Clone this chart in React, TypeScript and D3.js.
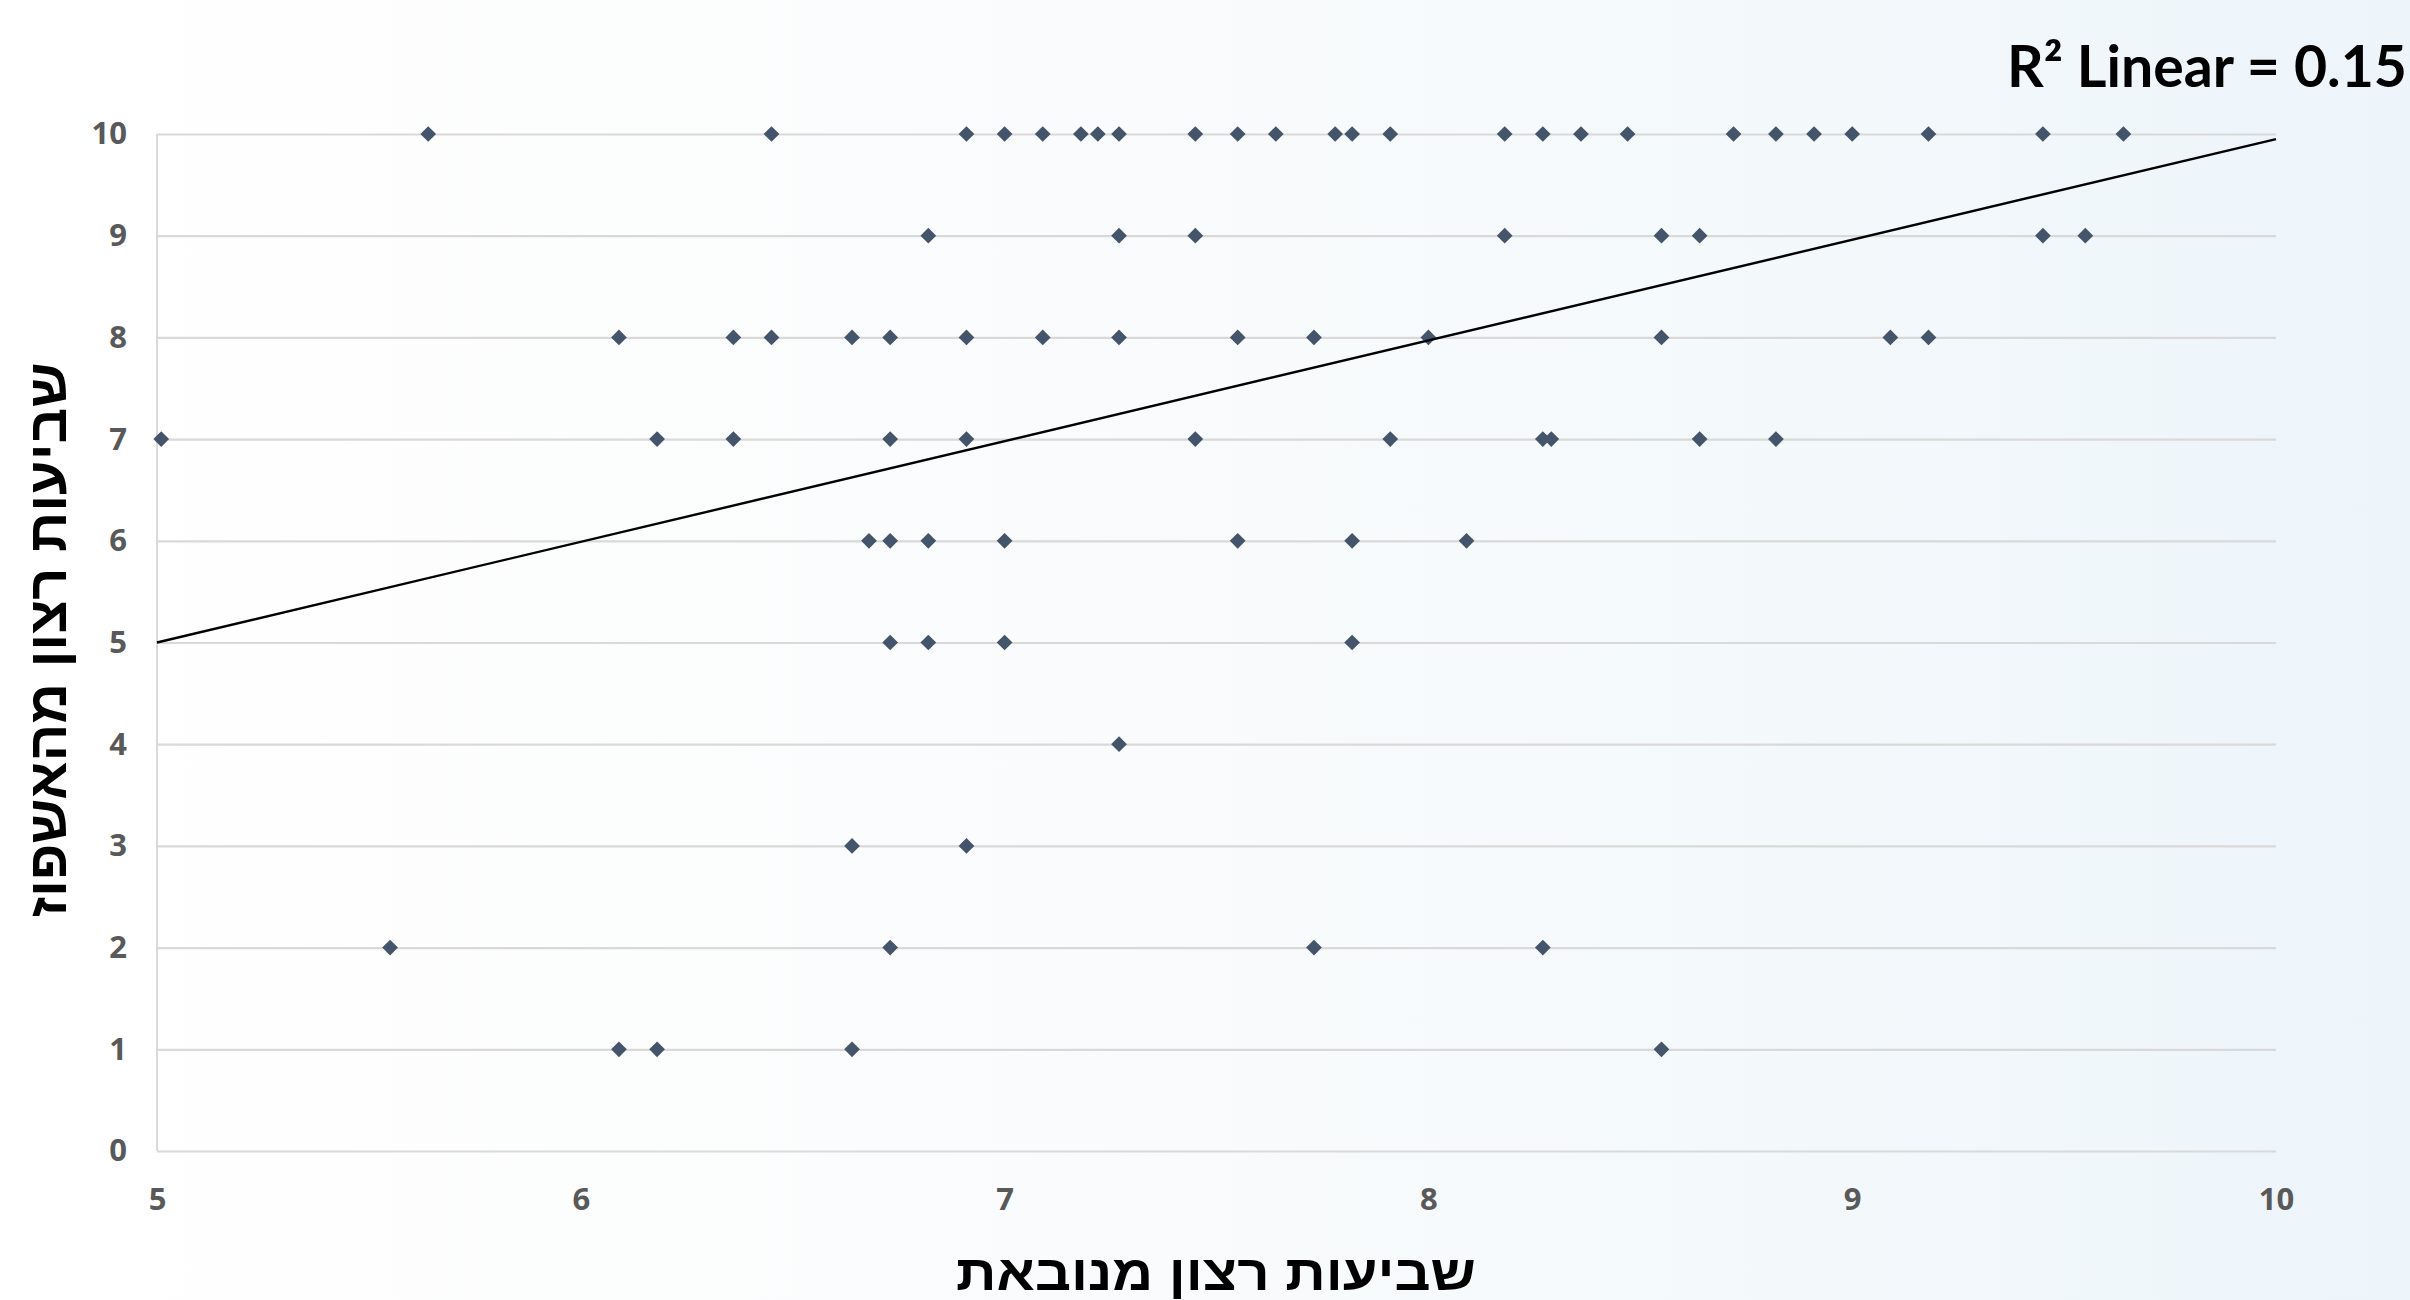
import { useEffect, useRef } from 'react';
import * as d3 from 'd3';

// predicted satisfaction (x) for each observed satisfaction level (y)
const xAtY10 = [5.64, 6.45, 6.91, 7.0, 7.09, 7.18, 7.22, 7.27, 7.45, 7.55, 7.64, 7.78, 7.82, 7.91, 8.18, 8.27, 8.36, 8.47, 8.72, 8.82, 8.91, 9.0, 9.18, 9.45, 9.64];
const xAtY9 = [6.82, 7.27, 7.45, 8.18, 8.55, 8.64, 9.45, 9.55];
const xAtY8 = [6.09, 6.36, 6.45, 6.64, 6.73, 6.91, 7.09, 7.27, 7.55, 7.73, 8.0, 8.55, 9.09, 9.18];
const xAtY7 = [5.01, 6.18, 6.36, 6.73, 6.91, 7.45, 7.91, 8.27, 8.29, 8.64, 8.82];
const xAtY6 = [6.68, 6.73, 6.82, 7.0, 7.55, 7.82, 8.09];
const xAtY5 = [6.73, 6.82, 7.0, 7.82];
const xAtY4 = [7.27];
const xAtY3 = [6.64, 6.91];
const xAtY2 = [5.55, 6.73, 7.73, 8.27];
const xAtY1 = [6.09, 6.18, 6.64, 8.55];

const yLevels = [10, 9, 8, 7, 6, 5, 4, 3, 2, 1];
const xByLevel = [xAtY10, xAtY9, xAtY8, xAtY7, xAtY6, xAtY5, xAtY4, xAtY3, xAtY2, xAtY1];

const xTicks = [5, 6, 7, 8, 9, 10];
const yTicks = [0, 1, 2, 3, 4, 5, 6, 7, 8, 9, 10];

// linear fit shown on the chart
const fitIntercept = 0.05;
const fitSlope = 0.99;
const fitLabel = 'R² Linear = 0.15';

const xTitle = 'שביעות רצון מנובאת';
const yTitle = 'שביעות רצון מהאשפוז';

const WIDTH = 2410;
const HEIGHT = 1300;

export default function App() {
  const ref = useRef<SVGSVGElement | null>(null);

  useEffect(() => {
    if (!ref.current) return;
    const svg = d3.select(ref.current);
    svg.selectAll('*').remove();

    const margin = { top: 134, right: 134, bottom: 149, left: 157 };
    const innerWidth = WIDTH - margin.left - margin.right;
    const innerHeight = HEIGHT - margin.top - margin.bottom;

    const x = d3.scaleLinear().domain([5, 10]).range([margin.left, margin.left + innerWidth]);
    const y = d3.scaleLinear().domain([0, 10]).range([margin.top + innerHeight, margin.top]);

    // background
    const defs = svg.append('defs');
    const grad = defs
      .append('linearGradient')
      .attr('id', 'bg')
      .attr('x1', '0%')
      .attr('y1', '0%')
      .attr('x2', '100%')
      .attr('y2', '0%');
    grad.append('stop').attr('offset', '0%').attr('stop-color', '#ffffff');
    grad.append('stop').attr('offset', '45%').attr('stop-color', '#fafbfc');
    grad.append('stop').attr('offset', '75%').attr('stop-color', '#f3f9fb');
    grad.append('stop').attr('offset', '100%').attr('stop-color', '#edf4fa');
    svg.append('rect').attr('width', WIDTH).attr('height', HEIGHT).attr('fill', 'url(#bg)');

    const tickFont = "'Open Sans', 'DejaVu Sans', sans-serif";

    // y axis + horizontal gridlines
    const yAxis = d3
      .axisLeft(y)
      .tickValues(yTicks)
      .tickSize(-innerWidth)
      .tickSizeOuter(0)
      .tickPadding(30)
      .tickFormat(d3.format('d'));

    const gy = svg.append('g').attr('transform', `translate(${margin.left},0)`).call(yAxis);
    gy.select('.domain').remove();
    gy.selectAll('.tick line').attr('stroke', '#d9d9d9').attr('stroke-width', 2.2);
    gy.selectAll('.tick text')
      .attr('fill', '#595959')
      .style('font-family', tickFont)
      .style('font-weight', 700)
      .style('font-size', '31px');

    // vertical axis line
    svg
      .append('line')
      .attr('x1', margin.left)
      .attr('x2', margin.left)
      .attr('y1', margin.top)
      .attr('y2', margin.top + innerHeight)
      .attr('stroke', '#d9d9d9')
      .attr('stroke-width', 2);

    // x axis
    const xAxis = d3.axisBottom(x).tickValues(xTicks).tickSize(0).tickPadding(37).tickFormat(d3.format('d'));
    const gx = svg.append('g').attr('transform', `translate(0,${margin.top + innerHeight})`).call(xAxis);
    gx.select('.domain').remove();
    gx.selectAll('.tick text')
      .attr('fill', '#595959')
      .style('font-family', tickFont)
      .style('font-weight', 700)
      .style('font-size', '31px');

    // points
    const points = yLevels.flatMap((lvl, i) => xByLevel[i].map((v) => ({ x: v, y: lvl })));
    const diamond = d3.symbol(d3.symbolSquare, 124)();
    svg
      .append('g')
      .selectAll('path')
      .data(points)
      .join('path')
      .attr('d', diamond)
      .attr('transform', (d) => `translate(${x(d.x)},${y(d.y)}) rotate(45)`)
      .attr('fill', '#44546a');

    // fit line
    const fitLine = d3
      .line<number>()
      .x((d) => x(d))
      .y((d) => y(fitIntercept + fitSlope * d));
    svg
      .append('path')
      .attr('d', fitLine(x.domain()))
      .attr('fill', 'none')
      .attr('stroke', '#000000')
      .attr('stroke-width', 2.4);

    // R² label
    svg
      .append('text')
      .attr('x', 2007)
      .attr('y', 87)
      .attr('textLength', 400)
      .attr('lengthAdjust', 'spacingAndGlyphs')
      .style('font-family', "Lato, 'Open Sans', sans-serif")
      .style('font-weight', 700)
      .style('font-size', '57px')
      .attr('fill', '#000000')
      .text(fitLabel);

    // axis titles
    svg
      .append('text')
      .attr('x', 1216)
      .attr('y', 1290)
      .attr('text-anchor', 'middle')
      .attr('textLength', 520)
      .attr('lengthAdjust', 'spacingAndGlyphs')
      .style('font-family', "'Liberation Sans', 'DejaVu Sans', sans-serif")
      .style('font-weight', 700)
      .style('font-size', '50px')
      .attr('fill', '#000000')
      .text(xTitle);

    svg
      .append('text')
      .attr('transform', `translate(66,640) rotate(-90)`)
      .attr('text-anchor', 'middle')
      .attr('textLength', 555)
      .attr('lengthAdjust', 'spacingAndGlyphs')
      .style('font-family', "'Liberation Sans', 'DejaVu Sans', sans-serif")
      .style('font-weight', 700)
      .style('font-size', '54px')
      .attr('fill', '#000000')
      .text(yTitle);
  }, []);

  return (
    <svg
      ref={ref}
      width={WIDTH}
      height={HEIGHT}
      style={{ position: 'absolute', left: 0, top: 0, display: 'block' }}
    />
  );
}
